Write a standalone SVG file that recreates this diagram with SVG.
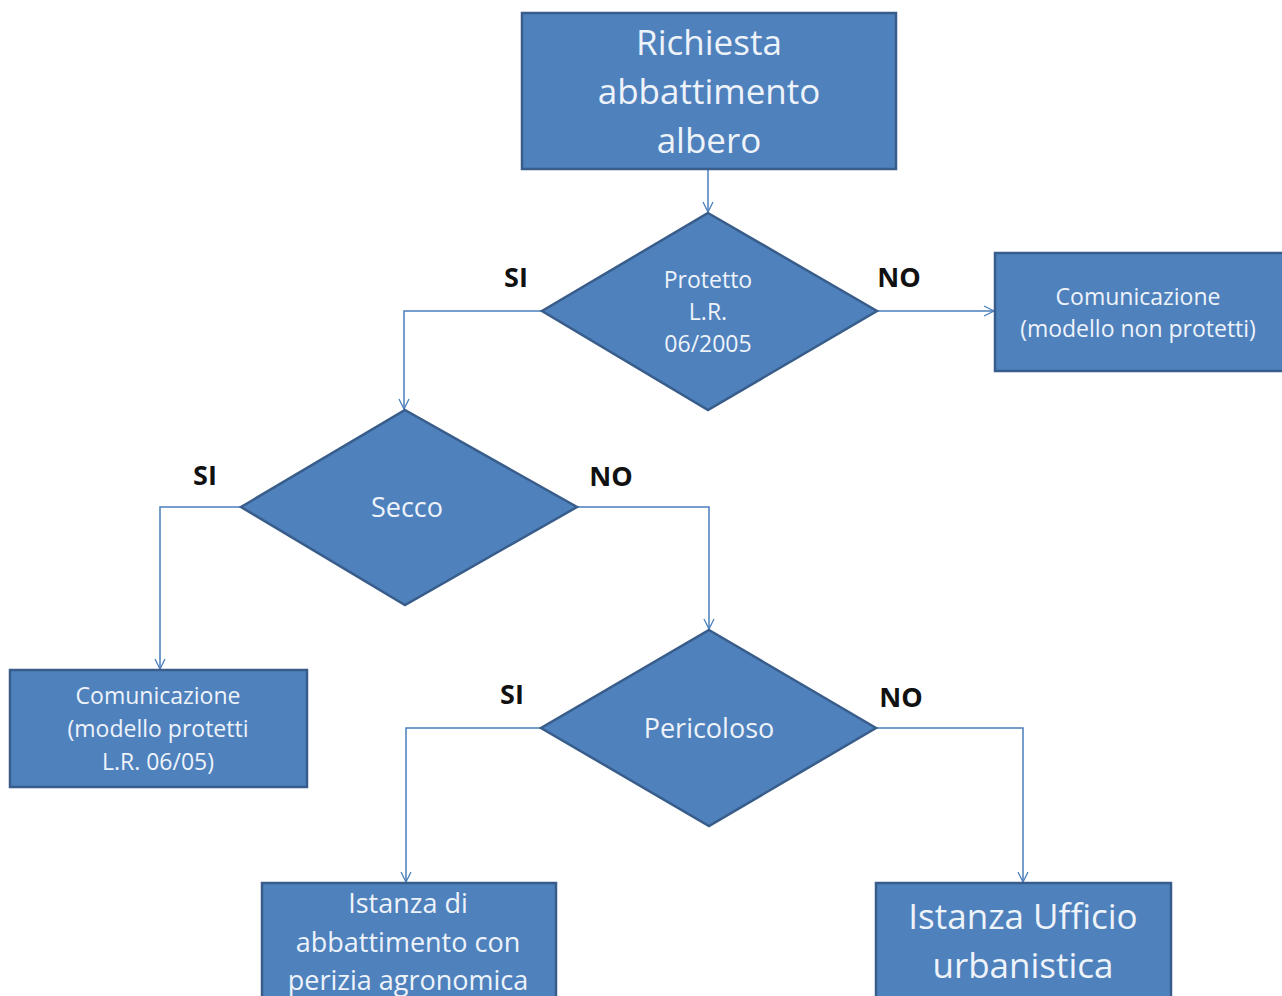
<svg xmlns="http://www.w3.org/2000/svg" width="1282" height="996" viewBox="0 0 1282 996">
<defs>
<marker id="arr" viewBox="0 0 12 12" refX="11" refY="6" markerWidth="12" markerHeight="12" markerUnits="userSpaceOnUse" orient="auto">
<path d="M1,1 L11,6 L1,11" fill="none" stroke="#4a7ebb" stroke-width="1.3"/>
</marker>
<style>
.n{fill:#4f81bd;stroke:#385d8a;stroke-width:2.5}
.t{font-family:"Open Sans","Liberation Sans",sans-serif;fill:#eef3fa;text-anchor:middle;font-variant-ligatures:none}
.l{font-family:"Open Sans","Liberation Sans",sans-serif;font-weight:bold;font-size:27px;fill:#111;text-anchor:middle}
.c{fill:none;stroke:#4a7ebb;stroke-width:1.5;marker-end:url(#arr)}
</style>
</defs>
<rect width="1282" height="996" fill="#fff"/>
<g id="connectors">
<path class="c" d="M708,169 V212"/>
<path class="c" d="M542,311 H404 V409"/>
<path class="c" d="M877,311 H994"/>
<path class="c" d="M241,507 H160 V669"/>
<path class="c" d="M577,507 H709 V629"/>
<path class="c" d="M541,728 H406 V882"/>
<path class="c" d="M876,728 H1023 V882"/>
</g>
<g id="labels">
<text class="l" x="516" y="287">SI</text>
<text class="l" x="899" y="287">NO</text>
<text class="l" x="205" y="485">SI</text>
<text class="l" x="611" y="486">NO</text>
<text class="l" x="512" y="704">SI</text>
<text class="l" x="901" y="707">NO</text>
</g>
<g id="start">
<rect class="n" x="522" y="13" width="374" height="156"/>
<text class="t" font-size="35"><tspan x="709" y="55">Richiesta</tspan><tspan x="709" y="104">abbattimento</tspan><tspan x="709" y="153">albero</tspan></text>
</g>
<g id="protetto">
<polygon class="n" points="708,213 877,311 708,410 542,311"/>
<text class="t" font-size="23"><tspan x="708" y="288">Protetto</tspan><tspan x="708" y="320">L.R.</tspan><tspan x="708" y="352">06/2005</tspan></text>
</g>
<g id="non-protetti">
<rect class="n" x="995" y="253" width="290" height="118"/>
<text class="t" font-size="23"><tspan x="1138" y="305">Comunicazione</tspan><tspan x="1138" y="337">(modello non protetti)</tspan></text>
</g>
<g id="secco">
<polygon class="n" points="405,410 577,507 405,605 241,507"/>
<text class="t" font-size="27"><tspan x="407" y="517">Secco</tspan></text>
</g>
<g id="protetti">
<rect class="n" x="10" y="670" width="297" height="117"/>
<text class="t" font-size="23"><tspan x="158" y="704">Comunicazione</tspan><tspan x="158" y="737">(modello protetti</tspan><tspan x="158" y="770">L.R. 06/05)</tspan></text>
</g>
<g id="pericoloso">
<polygon class="n" points="709,630 876,728 709,826 541,728"/>
<text class="t" font-size="27"><tspan x="709" y="738">Pericoloso</tspan></text>
</g>
<g id="perizia">
<rect class="n" x="262" y="883" width="294" height="120"/>
<text class="t" font-size="27"><tspan x="408" y="913">Istanza di</tspan><tspan x="408" y="952">abbattimento con</tspan><tspan x="408" y="990">perizia agronomica</tspan></text>
</g>
<g id="urbanistica">
<rect class="n" x="876" y="883" width="295" height="120"/>
<text class="t" font-size="35"><tspan x="1023" y="929">Istanza Ufficio</tspan><tspan x="1023" y="978">urbanistica</tspan></text>
</g>
</svg>
